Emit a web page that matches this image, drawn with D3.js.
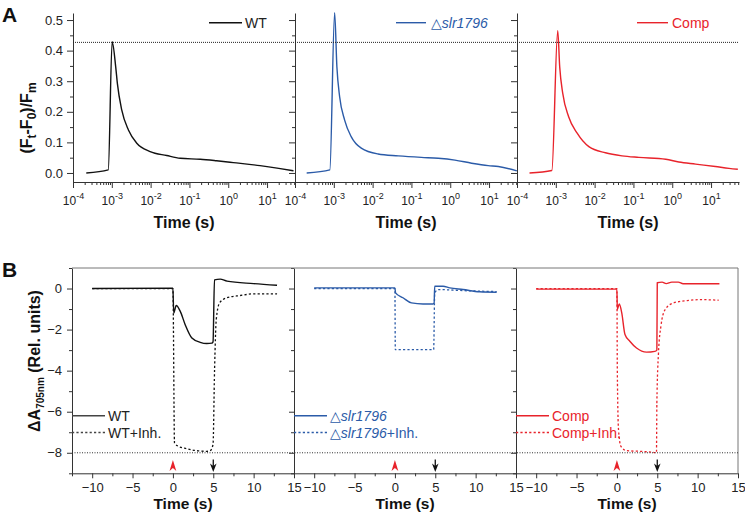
<!DOCTYPE html>
<html><head><meta charset="utf-8">
<script src="https://cdn.jsdelivr.net/npm/d3@7"></script>
<style>
body{margin:0;background:#fff}
svg{display:block;font-family:"Liberation Sans",Arial,sans-serif}
</style>
</head><body>
<svg id="c" width="745" height="512"></svg>
<script>
// ---------------- DATA ----------------
const strains = ["WT", "slr1796", "Comp"];
const strainColors = ["#111111", "#2b5ba8", "#e8232b"];

// Panel A: (Ft-F0)/Fm vs time (s)
const timeA_WT   = [2.2e-4, 8.1e-4, 1.02e-3, 1.26e-3, 1.39e-3, 1.8e-3, 2.7e-3, 4.4e-3, 9.7e-3, 0.026, 0.058, 0.19, 0.5, 1.35, 6.6, 20, 48];
const valA_WT    = [0.0, 0.010, 0.429, 0.347, 0.293, 0.206, 0.140, 0.097, 0.070, 0.057, 0.048, 0.045, 0.040, 0.034, 0.024, 0.015, 0.007];
const timeA_slr  = [2.0e-4, 7.9e-4, 1.05e-3, 1.2e-3, 1.41e-3, 1.9e-3, 2.8e-3, 5.1e-3, 0.0138, 0.046, 0.18, 0.49, 1.32, 3.55, 9.5, 17.4, 52];
const valA_slr   = [0.0, 0.010, 0.524, 0.347, 0.250, 0.173, 0.119, 0.081, 0.062, 0.056, 0.051, 0.048, 0.042, 0.032, 0.024, 0.021, 0.007];
const timeA_Comp = [2.1e-4, 7.9e-4, 1.12e-3, 1.26e-3, 1.51e-3, 2.14e-3, 3.55e-3, 7.1e-3, 0.019, 0.051, 0.138, 0.68, 1.48, 4.0, 12.9, 29, 49];
const valA_Comp  = [0.0, 0.008, 0.465, 0.347, 0.260, 0.184, 0.130, 0.086, 0.066, 0.056, 0.051, 0.045, 0.036, 0.029, 0.021, 0.015, 0.012];
const refA = 0.427;
const xTicksA = [1e-4, 1e-3, 1e-2, 1e-1, 1e0, 1e1];
const yTicksA = [0.0, 0.1, 0.2, 0.3, 0.4, 0.5];

// Panel B: dA705 vs time (s)
const tB_WT      = [-10, 0, 0.1, 0.41, 0.9, 1.52, 2.35, 3.38, 4.2, 4.83, 4.97, 5.15, 5.86, 6.7, 10, 12.9];
const vB_WT      = [0, 0.02, -1.19, -0.83, -1.1, -1.76, -2.41, -2.62, -2.68, -2.66, -2.6, 0.42, 0.46, 0.36, 0.24, 0.16];
const tB_WTi     = [-10, 0, 0.2, 0.7, 1.73, 2.97, 4.2, 4.62, 4.97, 5.16, 5.37, 5.78, 6.7, 8.34, 10, 12.9];
const vB_WTi     = [0, 0, -7.53, -7.69, -7.80, -7.90, -7.93, -7.90, -7.60, -3.95, -1.51, -0.70, -0.45, -0.34, -0.26, -0.26];
const tB_slr     = [-10, 0, 0.08, 1.0, 2.05, 3.48, 4.72, 4.86, 4.93, 5.96, 6.8, 8.45, 10.5, 12.6];
const vB_slr     = [0.03, 0.03, -0.21, -0.45, -0.70, -0.75, -0.75, -0.70, 0.11, 0.11, 0.03, -0.05, -0.16, -0.18];
const tB_slri    = [-10, 0, 0.05, 4.8, 4.93, 5.4, 8.4, 12.6];
const vB_slri    = [0, 0, -2.98, -2.98, -0.21, -0.05, -0.10, -0.15];
const tB_Comp    = [-10, 0, 0.05, 0.3, 0.6, 1.0, 1.6, 2.43, 3.67, 4.7, 4.95, 5.0, 5.6, 6.1, 6.8, 7.6, 8.2, 12.7];
const vB_Comp    = [-0.03, -0.03, -1.02, -0.75, -1.19, -2.24, -2.57, -2.90, -3.10, -3.06, -3.0, 0.28, 0.31, 0.24, 0.31, 0.31, 0.23, 0.23];
const tB_Compi   = [-10, 0, 0.05, 0.2, 0.5, 1.25, 2.9, 4.5, 4.9, 4.95, 5.15, 5.45, 5.98, 7.0, 8.7, 10.3, 12.6];
const vB_Compi   = [0, 0, -3.95, -6.88, -7.69, -7.90, -7.93, -7.98, -8.0, -5.58, -3.14, -1.84, -1.02, -0.70, -0.59, -0.54, -0.57];
const refB = -8;
const xTicksB = [-10, -5, 0, 5, 10, 15];
const yTicksB = [0, -2, -4, -6, -8];
const lightOn = 0, lightOff = 5;

// ---------------- LAYOUT ----------------
const svg = d3.select("#c");
const axisCol = "#333";
const pw = 222;
const leftA = [73, 295, 517];
const leftB = [72, 294, 516];

const xA = d3.scaleLog().domain([1e-4, 52.5]).range([0, pw]);
const yA = d3.scaleLinear().domain([-0.0295, 0.523]).range([182, 13]);
const xB = d3.scaleLinear().domain([-12.5, 15]).range([0, pw]);
const yB = d3.scaleLinear().domain([-9, 1]).range([473.3, 268]);

const dataA = [d3.zip(timeA_WT, valA_WT), d3.zip(timeA_slr, valA_slr), d3.zip(timeA_Comp, valA_Comp)];
const dataB = [[d3.zip(tB_WT, vB_WT), d3.zip(tB_WTi, vB_WTi)],
               [d3.zip(tB_slr, vB_slr), d3.zip(tB_slri, vB_slri)],
               [d3.zip(tB_Comp, vB_Comp), d3.zip(tB_Compi, vB_Compi)]];

function styleAxis(g) {
  g.selectAll("path.domain").attr("stroke", axisCol);
  g.selectAll(".tick line").attr("stroke", axisCol);
  g.selectAll("text").attr("fill", "#222").attr("font-family", "Liberation Sans, Arial, sans-serif");
}

function legendLabel(sel, i, suffix, size) {
  if (i === 1) {
    sel.append("tspan").attr("font-family", "DejaVu Sans, sans-serif").attr("font-size", size).text("\u25B3");
    sel.append("tspan").attr("font-style", "italic").text(strains[1]);
  } else {
    sel.append("tspan").text(strains[i]);
  }
  if (suffix) sel.append("tspan").text(suffix);
}

// ---------- Panel A ----------
const minorA = [];
for (let e = -4; e <= 1; e++) for (let m = 2; m <= 9; m++) { const v = m * Math.pow(10, e); if (v <= 52.5) minorA.push(v); }
const legendXA = [[136, 169, 172], [101, 131, 136], [120, 151, 155]];

leftA.forEach((L, i) => {
  const g = svg.append("g").attr("transform", `translate(${L},0)`);
  const gxm = g.append("g").attr("transform", "translate(0,182)")
    .call(d3.axisBottom(xA).tickValues(minorA).tickSize(3).tickFormat(() => ""));
  gxm.select("path.domain").remove();
  styleAxis(gxm);
  const gx = g.append("g").attr("transform", "translate(0,182)")
    .call(d3.axisBottom(xA).tickValues(xTicksA).tickSize(6).tickSizeOuter(0).tickFormat(() => ""));
  styleAxis(gx);
  gx.selectAll(".tick text").attr("y", 14.5).attr("dy", "0.71em").attr("font-size", 12).each(function(d) {
    const t = d3.select(this);
    t.text(null);
    t.append("tspan").text("10");
    t.append("tspan").attr("dy", -6).attr("font-size", 9).text(Math.round(Math.log10(d)));
  });
  const gym = g.append("g").call(d3.axisLeft(yA).tickValues([0.05, 0.15, 0.25, 0.35, 0.45]).tickSize(3).tickFormat(() => ""));
  gym.select("path.domain").remove();
  styleAxis(gym);
  const gy = g.append("g").call(d3.axisLeft(yA).tickValues(yTicksA).tickSize(6).tickSizeOuter(0)
    .tickPadding(4).tickFormat(i === 0 ? d3.format(".1f") : () => ""));
  gy.attr("font-size", 13);
  styleAxis(gy);

  g.append("path").datum(dataA[i]).attr("fill", "none").attr("stroke", strainColors[i]).attr("stroke-width", 1.4)
    .attr("stroke-linejoin", "round")
    .attr("d", d3.line().curve(d3.curveMonotoneX).x(d => xA(d[0])).y(d => yA(d[1])));

  const lx = legendXA[i];
  g.append("line").attr("x1", lx[0]).attr("x2", lx[1]).attr("y1", 22.7).attr("y2", 22.7)
    .attr("stroke", strainColors[i]).attr("stroke-width", 1.4);
  const lt = g.append("text").attr("x", lx[2]).attr("y", 27.5).attr("font-size", 14)
    .attr("fill", i === 0 ? "#222" : strainColors[i]);
  legendLabel(lt, i, "", 14);

  g.append("text").attr("x", pw / 2).attr("y", 227.5).attr("text-anchor", "middle")
    .attr("font-size", 16).attr("font-weight", "bold").attr("fill", "#111").text("Time (s)");
});
svg.append("line").attr("x1", leftA[0]).attr("x2", leftA[2] + pw).attr("y1", yA(refA)).attr("y2", yA(refA))
  .attr("stroke", "#222").attr("stroke-width", 1).attr("stroke-dasharray", "1,1");

const ytA = svg.append("text").attr("transform", "translate(32,118) rotate(-90)").attr("text-anchor", "middle")
  .attr("font-size", 16).attr("font-weight", "bold").attr("fill", "#111");
ytA.append("tspan").text("(F");
ytA.append("tspan").attr("font-size", 12).attr("dy", 4).text("t");
ytA.append("tspan").attr("dy", -4).text("-F");
ytA.append("tspan").attr("font-size", 12).attr("dy", 4).text("0");
ytA.append("tspan").attr("dy", -4).text(")/F");
ytA.append("tspan").attr("font-size", 12).attr("dy", 4).text("m");

svg.append("text").attr("x", 2).attr("y", 22).attr("font-size", 21).attr("font-weight", "bold").attr("fill", "#111").text("A");
svg.append("text").attr("x", 2).attr("y", 277).attr("font-size", 21).attr("font-weight", "bold").attr("fill", "#111").text("B");

// ---------- Panel B ----------
leftB.forEach((L, i) => {
  const g = svg.append("g").attr("transform", `translate(${L},0)`);
  const gxm = g.append("g").attr("transform", "translate(0,473.3)")
    .call(d3.axisBottom(xB).tickValues([-12.5, -7.5, -2.5, 2.5, 7.5, 12.5]).tickSize(3).tickFormat(() => ""));
  gxm.select("path.domain").remove();
  styleAxis(gxm);
  const gx = g.append("g").attr("transform", "translate(0,473.3)")
    .call(d3.axisBottom(xB).tickValues(xTicksB).tickSize(5).tickSizeOuter(0).tickFormat(d3.format("d")));
  gx.attr("font-size", 13);
  styleAxis(gx);
  gx.selectAll(".tick text").attr("y", 9.5).attr("dy", "0.71em");

  const gym = g.append("g").call(d3.axisLeft(yB).tickValues([1, -1, -3, -5, -7, -9]).tickSize(3).tickFormat(() => ""));
  gym.select("path.domain").remove();
  styleAxis(gym);
  const gy = g.append("g").call(d3.axisLeft(yB).tickValues(yTicksB).tickSize(5).tickSizeOuter(0)
    .tickPadding(5).tickFormat(i === 0 ? d3.format("d") : () => ""));
  gy.attr("font-size", 13);
  styleAxis(gy);

  const line = d3.line().curve(d3.curveMonotoneX).x(d => xB(d[0])).y(d => yB(d[1]));
  g.append("path").datum(dataB[i][1]).attr("fill", "none").attr("stroke", strainColors[i])
    .attr("stroke-width", 1.3).attr("stroke-dasharray", "2.2,2.2").attr("d", line);
  g.append("path").datum(dataB[i][0]).attr("fill", "none").attr("stroke", strainColors[i])
    .attr("stroke-width", 1.4).attr("stroke-linejoin", "round").attr("d", line);

  const legCol = i === 0 ? "#444" : strainColors[i];
  g.append("line").attr("x1", 0).attr("x2", 33).attr("y1", 415.7).attr("y2", 415.7)
    .attr("stroke", legCol).attr("stroke-width", 1.5);
  g.append("line").attr("x1", 0).attr("x2", 33).attr("y1", 432.5).attr("y2", 432.5)
    .attr("stroke", legCol).attr("stroke-width", 1.3).attr("stroke-dasharray", "2.2,2.2");
  const t1 = g.append("text").attr("x", 36).attr("y", 420.7).attr("font-size", 14).attr("fill", i === 0 ? "#222" : strainColors[i]);
  legendLabel(t1, i, "", 14);
  const t2 = g.append("text").attr("x", 36).attr("y", 437.7).attr("font-size", 14).attr("fill", i === 0 ? "#222" : strainColors[i]);
  legendLabel(t2, i, "+Inh.", 14);

  const xa = xB(lightOn);
  g.append("path").attr("fill", "#e8232b")
    .attr("d", `M${xa},460 L${xa + 3.4},471 L${xa},468 L${xa - 3.4},471 Z`);
  const xb = xB(lightOff);
  g.append("line").attr("x1", xb).attr("x2", xb).attr("y1", 459.5).attr("y2", 467).attr("stroke", "#111").attr("stroke-width", 1.3);
  g.append("path").attr("fill", "#111")
    .attr("d", `M${xb},472 L${xb + 3.3},463.5 L${xb},466 L${xb - 3.3},463.5 Z`);

  g.append("text").attr("x", pw / 2).attr("y", 509).attr("text-anchor", "middle")
    .attr("font-size", 15.5).attr("font-weight", "bold").attr("fill", "#111").text("Time (s)");
});
svg.append("line").attr("x1", leftB[0]).attr("x2", leftB[2] + pw).attr("y1", 268).attr("y2", 268).attr("stroke", "#777");
svg.append("line").attr("x1", leftB[2] + pw).attr("x2", leftB[2] + pw).attr("y1", 268).attr("y2", 473.3).attr("stroke", "#777");
svg.append("line").attr("x1", leftB[0]).attr("x2", leftB[2] + pw).attr("y1", yB(refB)).attr("y2", yB(refB))
  .attr("stroke", "#333").attr("stroke-width", 1).attr("stroke-dasharray", "1,1.5");

const ytB = svg.append("text").attr("transform", "translate(40,361) rotate(-90)").attr("text-anchor", "middle")
  .attr("font-size", 16).attr("font-weight", "bold").attr("fill", "#111");
ytB.append("tspan").text("\u0394A");
ytB.append("tspan").attr("font-size", 10).attr("dy", 4).text("705nm");
ytB.append("tspan").attr("dy", -4).text(" (Rel. units)");
</script>
</body></html>
